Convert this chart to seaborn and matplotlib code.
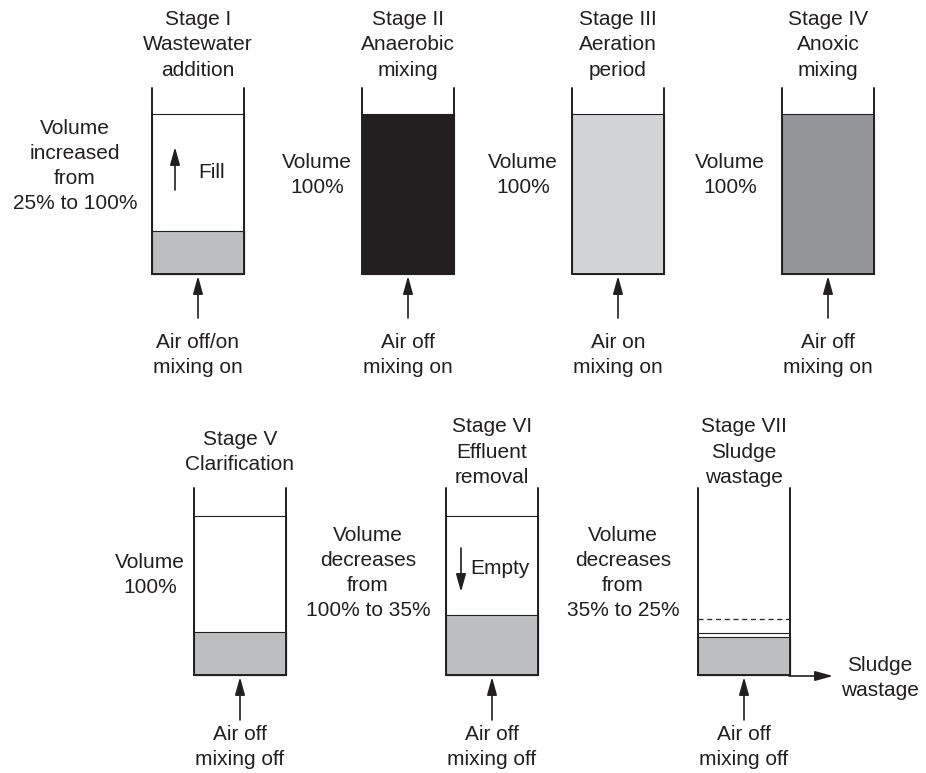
import matplotlib
matplotlib.use("Agg")
import matplotlib.pyplot as plt
import seaborn as sns

sns.set_theme(style="white")
plt.rcParams['font.family'] = ['Liberation Sans', 'DejaVu Sans']

# ---- data ----
stage_titles = ["Stage I\nWastewater\naddition", "Stage II\nAnaerobic\nmixing",
                "Stage III\nAeration\nperiod", "Stage IV\nAnoxic\nmixing",
                "Stage V\nClarification", "Stage VI\nEffluent\nremoval",
                "Stage VII\nSludge\nwastage"]
volume_notes = ["Volume\nincreased\nfrom\n25% to 100%", "Volume\n100%", "Volume\n100%",
                "Volume\n100%", "Volume\n100%", "Volume\ndecreases\nfrom\n100% to 35%",
                "Volume\ndecreases\nfrom\n35% to 25%"]
conditions = ["Air off/on\nmixing on", "Air off\nmixing on", "Air on\nmixing on",
              "Air off\nmixing on", "Air off\nmixing off", "Air off\nmixing off",
              "Air off\nmixing off"]
liquid_level = [100, 100, 100, 100, 100, 100, 26.5]   # % of full volume
sludge_level = [27, 0, 0, 0, 27, 38, 24]              # % of full volume
previous_level = [None, None, None, None, None, None, 35]

# ---- layout / style ----
ink = "#231f20"
liquid_colors = ["white", "#231f20", "#d1d3d4", "#939598", "white", "white", "white"]
sludge_color = "#bcbec0"
tank_left = [152, 362, 572, 782, 194, 446, 698]
tank_w = 92
row_bottom = [274, 675]
row_scale = [1.6, 1.59]        # pixels per % volume
wall_top = [88, 488]
title_y = [45, 452]
note_x = [75, 317, 523, 730, 150, 368, 623]
note_y = [166, 175, 175, 175, 575, 573, 573]
cond_y = [355, 747]
arrow_tail = [318, 720]
fs = 15
ls = 1.42

fig = plt.figure(figsize=(9.26, 7.73), dpi=100)
ax = fig.add_axes([0, 0, 1, 1])
ax.set_xlim(0, 926)
ax.set_ylim(773, 0)
ax.axis("off")

head = "-|>,head_length=0.9,head_width=0.25"

for i in range(7):
    row = 0 if i < 4 else 1
    b = row_bottom[row]
    s = row_scale[row]
    cx = tank_left[i] + tank_w / 2
    # liquid
    ax.bar(cx, -liquid_level[i] * s, bottom=b, width=tank_w, color=liquid_colors[i],
           edgecolor=ink, linewidth=0.8)
    # settled sludge
    if sludge_level[i] > 0:
        ax.bar(cx, -sludge_level[i] * s, bottom=b, width=tank_w, color=sludge_color,
               edgecolor=ink, linewidth=0.8)
    if previous_level[i] is not None:
        y = b - previous_level[i] * s
        ax.plot([tank_left[i], tank_left[i] + tank_w], [y, y], color=ink, lw=0.9,
                ls=(0, (4, 3)))
    # tank walls
    ax.plot([tank_left[i], tank_left[i], tank_left[i] + tank_w, tank_left[i] + tank_w],
            [wall_top[row], b, b, wall_top[row]], color=ink, lw=1.4, solid_joinstyle="miter")
    # texts
    ax.text(cx, title_y[row], stage_titles[i], ha="center", va="center", fontsize=fs,
            color=ink, linespacing=ls)
    ax.text(note_x[i], note_y[i], volume_notes[i], ha="center", va="center", fontsize=fs,
            color=ink, linespacing=ls)
    ax.text(cx, cond_y[row], conditions[i], ha="center", va="center", fontsize=fs,
            color=ink, linespacing=ls)
    # air / mixing arrow
    ax.annotate("", xy=(cx, b + 2), xytext=(cx, arrow_tail[row]),
                arrowprops=dict(arrowstyle=head, color=ink, lw=1.2, shrinkA=0, shrinkB=0))

# fill / empty arrows
ax.annotate("", xy=(175, 147), xytext=(175, 190),
            arrowprops=dict(arrowstyle=head, color=ink, lw=1.2, shrinkA=0, shrinkB=0))
ax.text(212, 173, "Fill", ha="center", va="center", fontsize=fs, color=ink)
ax.annotate("", xy=(461, 592), xytext=(461, 548),
            arrowprops=dict(arrowstyle=head, color=ink, lw=1.2, shrinkA=0, shrinkB=0))
ax.text(500, 568, "Empty", ha="center", va="center", fontsize=fs, color=ink)

# sludge wastage outlet
ax.annotate("", xy=(833, 676), xytext=(789, 676),
            arrowprops=dict(arrowstyle=head, color=ink, lw=1.2, shrinkA=0, shrinkB=0))
ax.text(880, 678, "Sludge\nwastage", ha="center", va="center", fontsize=fs, color=ink,
        linespacing=ls)

fig.savefig("out.png", dpi=100, facecolor="white")
